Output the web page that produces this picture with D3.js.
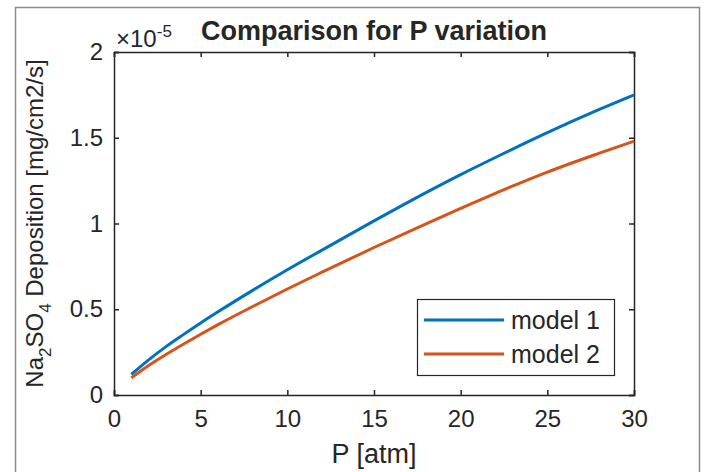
<!DOCTYPE html>
<html>
<head>
<meta charset="utf-8">
<script src="https://cdn.jsdelivr.net/npm/d3@7"></script>
<style>
  body { margin: 0; background: #fff; }
  text { font-family: "Liberation Sans", Arial, sans-serif; fill: #262626; }
</style>
</head>
<body>
<script>
// pressure values (atm) where the curves were read
const pressure = [1, 2, 3, 4, 5, 6, 8, 10, 12, 15, 18, 20, 22, 25, 28, 30];
// deposition, in units of 1e-5 mg/cm2/s
const model1 = [0.12, 0.205, 0.282, 0.352, 0.42, 0.485, 0.61, 0.73, 0.845, 1.015, 1.18, 1.285, 1.385, 1.53, 1.665, 1.75];
const model2 = [0.10, 0.172, 0.236, 0.296, 0.354, 0.41, 0.516, 0.618, 0.716, 0.86, 0.998, 1.088, 1.176, 1.30, 1.41, 1.48];
const xTicks = [0, 5, 10, 15, 20, 25, 30];
const yTicks = [0, 0.5, 1, 1.5, 2];
const seriesNames = ["model 1", "model 2"];
const seriesColors = ["#0072BD", "#D95319"];

const W = 709, H = 472;
const m = { left: 114, right: 634, top: 52, bottom: 395 };

const svg = d3.select("body").append("svg")
  .attr("width", W)
  .attr("height", H);

// outer figure frame
svg.append("rect")
  .attr("x", 15.5).attr("y", 7.5)
  .attr("width", 684).attr("height", 480)
  .attr("fill", "none")
  .attr("stroke", "#8a8a8a")
  .attr("stroke-width", 1.5);

const x = d3.scaleLinear().domain([0, 30]).range([m.left, m.right]);
const y = d3.scaleLinear().domain([0, 2]).range([m.bottom, m.top]);

const axisColor = "#262626";
const fmt = d3.format("~g");

// bottom axis
const gx = svg.append("g")
  .attr("transform", `translate(0,${m.bottom})`)
  .call(d3.axisBottom(x).tickValues(xTicks).tickSize(-5).tickPadding(15).tickFormat(fmt));
// top axis (ticks only)
const gxt = svg.append("g")
  .attr("transform", `translate(0,${m.top})`)
  .call(d3.axisTop(x).tickValues(xTicks).tickSize(-5).tickFormat(""));
// left axis
const gy = svg.append("g")
  .attr("transform", `translate(${m.left},0)`)
  .call(d3.axisLeft(y).tickValues(yTicks).tickSize(-5).tickPadding(11).tickFormat(fmt));
// right axis (ticks only)
const gyr = svg.append("g")
  .attr("transform", `translate(${m.right},0)`)
  .call(d3.axisRight(y).tickValues(yTicks).tickSize(-5).tickFormat(""));

[gx, gxt, gy, gyr].forEach(g => {
  g.select(".domain").attr("stroke", axisColor).attr("stroke-width", 1.5);
  g.selectAll(".tick line").attr("stroke", axisColor).attr("stroke-width", 1.5);
  g.selectAll(".tick text")
    .attr("fill", axisColor)
    .style("font-size", "24px")
    .style("font-family", "Liberation Sans, Arial, sans-serif");
});

// curves
const line = d3.line()
  .x(d => x(d[0]))
  .y(d => y(d[1]))
  .curve(d3.curveMonotoneX);

[model1, model2].forEach((vals, i) => {
  svg.append("path")
    .datum(pressure.map((p, j) => [p, vals[j]]))
    .attr("fill", "none")
    .attr("stroke", seriesColors[i])
    .attr("stroke-width", 3)
    .attr("d", line);
});

// exponent label
const ex = svg.append("text")
  .attr("x", m.left + 2)
  .attr("y", 47)
  .style("font-size", "24px");
ex.append("tspan").text("\u00d710");
ex.append("tspan").attr("dy", -10).style("font-size", "17px").text("-5");

// title
svg.append("text")
  .attr("x", (m.left + m.right) / 2)
  .attr("y", 40)
  .attr("text-anchor", "middle")
  .style("font-size", "27px")
  .style("font-weight", "bold")
  .attr("fill", "#000")
  .text("Comparison for P variation");

// x label
svg.append("text")
  .attr("x", (m.left + m.right) / 2)
  .attr("y", 463)
  .attr("text-anchor", "middle")
  .style("font-size", "27px")
  .text("P [atm]");

// y label
const yl = svg.append("text")
  .attr("transform", `translate(43,${(m.top + m.bottom) / 2}) rotate(-90)`)
  .attr("text-anchor", "middle")
  .style("font-size", "24px");
yl.append("tspan").text("Na");
yl.append("tspan").attr("dy", 8).style("font-size", "17px").text("2");
yl.append("tspan").attr("dy", -8).text("SO");
yl.append("tspan").attr("dy", 8).style("font-size", "17px").text("4");
yl.append("tspan").attr("dy", -8).text(" Deposition [mg/cm2/s]");

// legend
const leg = svg.append("g");
leg.append("rect")
  .attr("x", 417.5).attr("y", 299.5)
  .attr("width", 197).attr("height", 76)
  .attr("fill", "#fff")
  .attr("stroke", axisColor)
  .attr("stroke-width", 1.2);
seriesNames.forEach((name, i) => {
  const ly = 320 + i * 34;
  leg.append("line")
    .attr("x1", 424).attr("x2", 504)
    .attr("y1", ly).attr("y2", ly)
    .attr("stroke", seriesColors[i])
    .attr("stroke-width", 3);
  leg.append("text")
    .attr("x", 511).attr("y", ly + 9)
    .style("font-size", "25px")
    .text(name);
});
</script>
</body>
</html>
